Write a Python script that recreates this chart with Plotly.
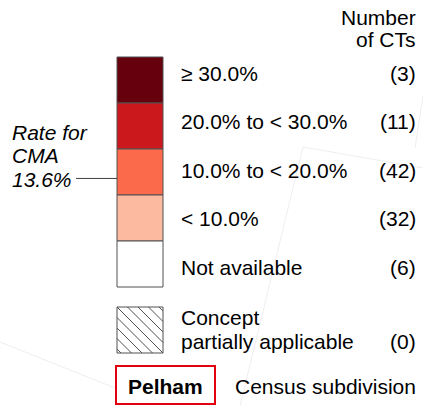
import plotly.graph_objects as go

# ---- data ----
class_labels = ["≥ 30.0%", "20.0% to < 30.0%", "10.0% to < 20.0%", "< 10.0%", "Not available"]
class_counts = ["(3)", "(11)", "(42)", "(32)", "(6)"]
class_colors = ["#67000d", "#cb181d", "#fb6a4a", "#fcbba1", "#ffffff"]
hatch_label = ["Concept", "partially applicable"]
hatch_count = "(0)"
header_lines = ["Number", "of CTs"]
cma_lines = ["Rate for", "CMA", "13.6%"]
cma_rate = 13.6
csd_name = "Pelham"
csd_label = "Census subdivision"

W, H = 423, 406
FONT = "Liberation Sans, Arial, sans-serif"
FS = 21

# layout constants
box_x0, box_x1 = 117, 163
box_top, box_h = 57, 46
text_x = 179
count_x = 417.5
row_y0, row_dy = 73, 48.5

shapes = []
annotations = []

def ann(x, y, text, xanchor="left", size=FS, italic=False, bold=False):
    t = text
    if bold:
        t = "<b>" + t + "</b>"
    if italic:
        t = "<i>" + t + "</i>"
    annotations.append(dict(x=x, y=y, xref="x", yref="y", text=t, showarrow=False,
                            xanchor=xanchor, yanchor="middle",
                            font=dict(family=FONT, size=size, color="#000000")))

# faint background map lines
bg_lines = [((303, 147), (240, 406)), ((303, 147), (423, 168)),
            ((0, 342), (115, 388)), ((423, 96), (415, 148))]
for (a, b) in bg_lines:
    shapes.append(dict(type="line", x0=a[0], y0=a[1], x1=b[0], y1=b[1],
                       xref="x", yref="y", line=dict(color="#eeeeee", width=1), layer="below"))

# class boxes
for i, c in enumerate(class_colors):
    y0 = box_top + i * box_h
    shapes.append(dict(type="rect", x0=box_x0, x1=box_x1, y0=y0, y1=y0 + box_h,
                       xref="x", yref="y", fillcolor=c,
                       line=dict(color="#505050", width=1)))
    ann(text_x, row_y0 + i * row_dy, class_labels[i])
    ann(count_x, row_y0 + i * row_dy, class_counts[i], xanchor="right")

# header
ann(count_x, 17.5, header_lines[0], xanchor="right")
ann(count_x, 39.5, header_lines[1], xanchor="right")

# CMA rate label and pointer (rate 13.6% within 10-20 class -> 3rd box)
lo, hi = 10.0, 20.0
frac = (cma_rate - lo) / (hi - lo)
ptr_y = box_top + 3 * box_h - frac * box_h
cma_y = [132, 155.5, 179]
for t, y in zip(cma_lines, cma_y):
    ann(9.5, y, t, italic=True)
shapes.append(dict(type="line", x0=76, x1=box_x0, y0=ptr_y, y1=ptr_y,
                   xref="x", yref="y", line=dict(color="#404040", width=1)))

# hatched box
hy0, hy1 = 307, 353
shapes.append(dict(type="rect", x0=box_x0, x1=box_x1, y0=hy0, y1=hy1,
                   xref="x", yref="y", fillcolor="#ffffff",
                   line=dict(color="#505050", width=1)))
side = box_x1 - box_x0
step = 10.5
k = -4
while k <= 4:
    c = k * step  # line: (y - hy0) = (x - box_x0) - c
    xa = max(0, c)
    xb = min(side, side + c)
    if xb - xa > 0.5:
        shapes.append(dict(type="line", x0=box_x0 + xa, y0=hy0 + xa - c,
                           x1=box_x0 + xb, y1=hy0 + xb - c, xref="x", yref="y",
                           line=dict(color="#505050", width=1)))
    k += 1
ann(text_x, 317, hatch_label[0])
ann(text_x, 341, hatch_label[1])
ann(count_x, 341, hatch_count, xanchor="right")

# census subdivision box
shapes.append(dict(type="rect", x0=116, x1=215, y0=366, y1=404,
                   xref="x", yref="y", fillcolor="#ffffff",
                   line=dict(color="#e3000f", width=2)))
ann(165.5, 386.5, csd_name, xanchor="center", size=21, bold=True)
ann(233, 386.5, csd_label, size=21)

fig = go.Figure()
fig.update_layout(
    width=W, height=H, margin=dict(l=0, r=0, t=0, b=0),
    paper_bgcolor="#ffffff", plot_bgcolor="#ffffff",
    xaxis=dict(range=[0, W], visible=False, fixedrange=True),
    yaxis=dict(range=[H, 0], visible=False, fixedrange=True),
    shapes=shapes, annotations=annotations, showlegend=False,
)
fig.write_html("out.html", config={"displayModeBar": False},
               post_script="document.body.style.margin='0';document.body.style.overflow='hidden';")
